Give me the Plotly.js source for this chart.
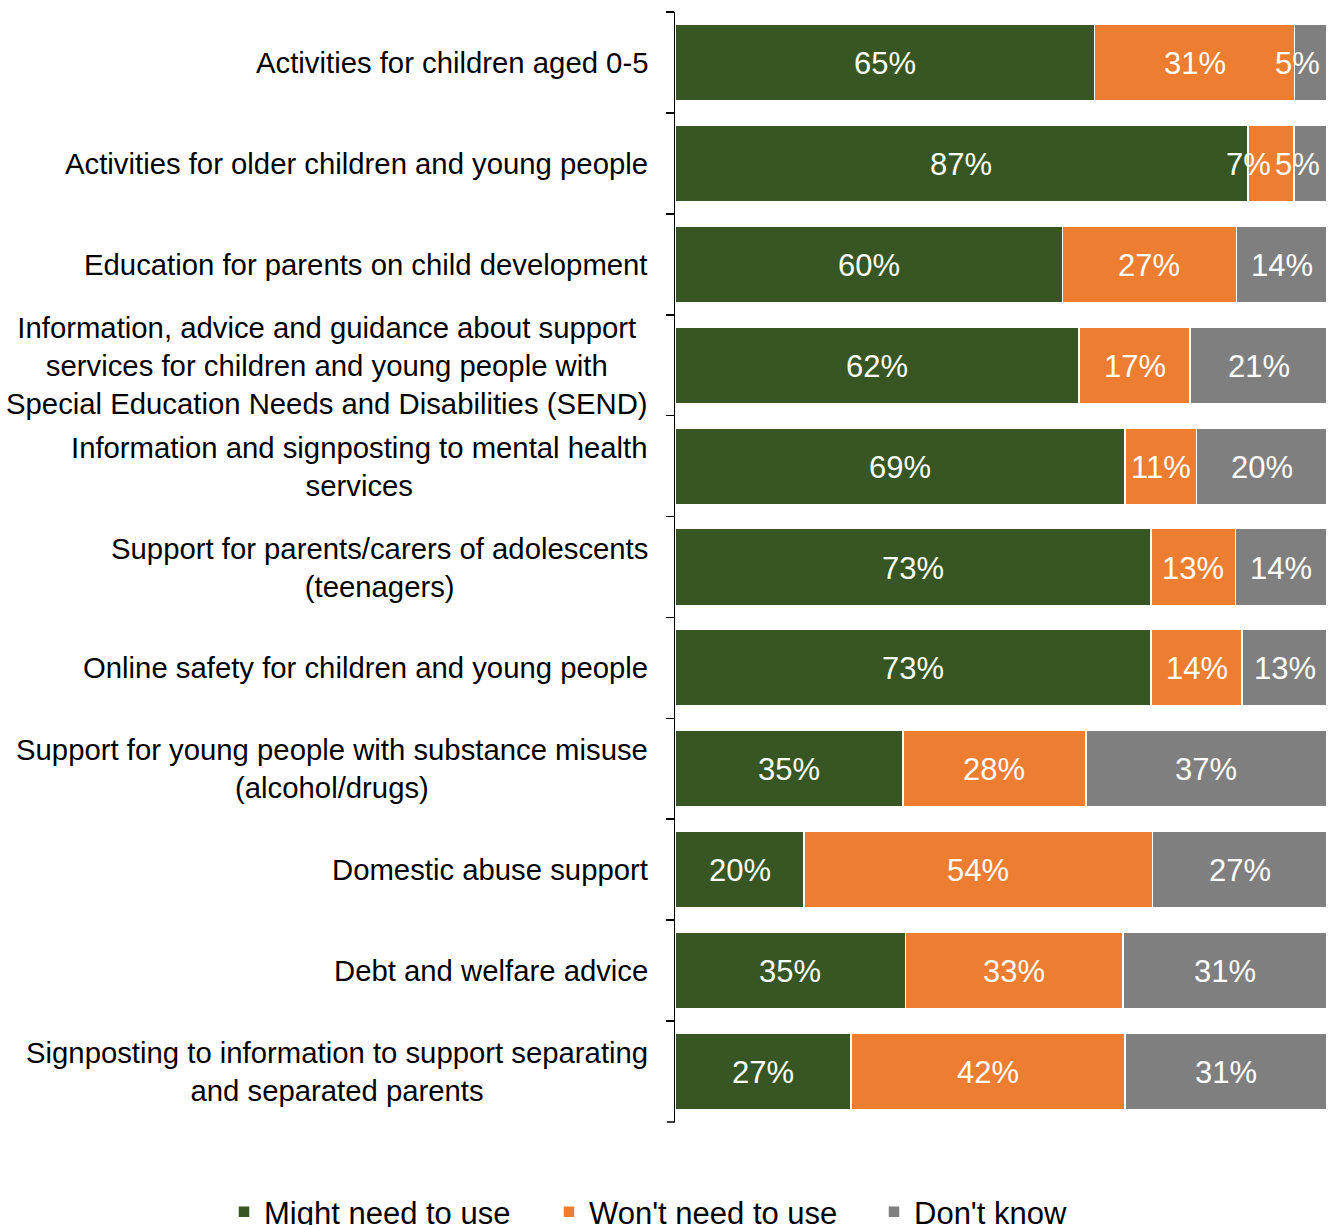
<!DOCTYPE html>
<html><head><meta charset="utf-8">
<script src="https://cdn.plot.ly/plotly-3.0.1.min.js"></script>
<style>html,body{margin:0;padding:0;background:#fff;overflow:hidden}#chart{width:1338px;height:1225px}</style>
</head><body><div id="chart"></div>
<script>
const categories = [
  "Activities for children aged 0-5",
  "Activities for older children and young people",
  "Education for parents on child development",
  "Information, advice and guidance about support<br>services for children and young people with<br>Special Education Needs and Disabilities (SEND)",
  "Information and signposting to mental health<br>services",
  "Support for parents/carers of adolescents<br>(teenagers)",
  "Online safety for children and young people",
  "Support for young people with substance misuse<br>(alcohol/drugs)",
  "Domestic abuse support",
  "Debt and welfare advice",
  "Signposting to information to support separating<br>and separated parents"
];
const mightNeed = [65, 87, 60, 62, 69, 73, 73, 35, 20, 35, 27];
const wontNeed  = [31, 7, 27, 17, 11, 13, 14, 28, 54, 33, 42];
const dontKnow  = [5, 5, 14, 21, 20, 14, 13, 37, 27, 31, 31];
const seriesNames = ["Might need to use", "Won't need to use", "Don't know"];
const seriesColors = ["#375623", "#ED7D31", "#7F7F7F"];
const seriesValues = [mightNeed, wontNeed, dontKnow];

const FONT = "Liberation Sans, Arial, sans-serif";
const LABEL_SIZE = 31;
const PLOT_W = 652;          // plot area width in px (1338 - 675 - 11)

// Bars
const traces = seriesValues.map((vals, i) => ({
  type: "bar",
  orientation: "h",
  name: seriesNames[i],
  x: vals,
  y: categories,
  textposition: "none",
  marker: {color: seriesColors[i], line: {color: "#ffffff", width: 1.5}},
  hoverinfo: "skip"
}));

// Category labels (centred multi-line blocks, right-aligned to the axis)
const annotations = categories.map(c => ({
  x: 0, xref: "paper", xanchor: "right", xshift: -25,
  y: c, yref: "y", yanchor: "middle",
  text: c, showarrow: false, align: "center",
  font: {family: FONT, size: 29.3, color: "#000000"}
}));

// Data labels: centred in each segment (percent-normalised like the bars),
// nudged left only when they would run past the chart edge or into the next label.
function labelHalfWidthPct(s) {
  let em = 0;
  for (const ch of s) em += (ch === "%") ? 0.889 : 0.556;
  return em * LABEL_SIZE / PLOT_W * 100 / 2;
}
const maxRightPct = (1320 - 675) / PLOT_W * 100;
const gapPct = 4 / PLOT_W * 100;
categories.forEach((c, r) => {
  const vals = seriesValues.map(s => s[r]);
  const total = vals.reduce((a, b) => a + b, 0);
  let cum = 0;
  const items = vals.map(v => {
    const start = cum / total * 100;
    cum += v;
    const end = cum / total * 100;
    const txt = v + "%";
    return {txt, center: (start + end) / 2, hw: labelHalfWidthPct(txt)};
  });
  let limit = maxRightPct;
  for (let k = items.length - 1; k >= 0; k--) {
    const it = items[k];
    if (it.center + it.hw > limit) it.center = limit - it.hw;
    limit = it.center - it.hw - gapPct;
  }
  items.forEach(it => annotations.push({
    x: it.center, xref: "x", xanchor: "center",
    y: c, yref: "y", yanchor: "middle", yshift: -1,
    text: it.txt, showarrow: false,
    font: {family: FONT, size: LABEL_SIZE, color: "#ffffff"}
  }));
});

const layout = {
  width: 1338, height: 1225,
  margin: {l: 675, r: 11, t: 12, b: 103, pad: 0, autoexpand: false},
  paper_bgcolor: "#ffffff", plot_bgcolor: "#ffffff",
  barmode: "stack", barnorm: "percent", bargap: 0.24,
  font: {family: FONT, color: "#000000"},
  xaxis: {range: [0, 100], visible: false, fixedrange: true},
  yaxis: {
    type: "category", range: [10.502, -0.502],
    showticklabels: false, showgrid: false, zeroline: false,
    showline: true, linecolor: "#000000", linewidth: 1.5,
    ticks: "outside", tickson: "boundaries", ticklen: 8, tickwidth: 1.5, tickcolor: "#000000"
  },
  shapes: [{
    type: "line", xref: "paper", yref: "paper",
    x0: -8 / PLOT_W, x1: 0, y0: 0, y1: 0,
    line: {color: "#000000", width: 1.5}
  }],
  showlegend: true,
  legend: {
    orientation: "h", traceorder: "normal",
    xref: "paper", yref: "paper",
    x: (224 - 675) / PLOT_W, xanchor: "left",
    y: -(1185 - 1122) / 1110, yanchor: "top",
    font: {family: FONT, size: 31, color: "#000000"},
    entrywidth: 280, itemwidth: 30
  },
  annotations: annotations
};

Plotly.newPlot("chart", traces, layout, {staticPlot: true, displayModeBar: false});
</script>
</body></html>
